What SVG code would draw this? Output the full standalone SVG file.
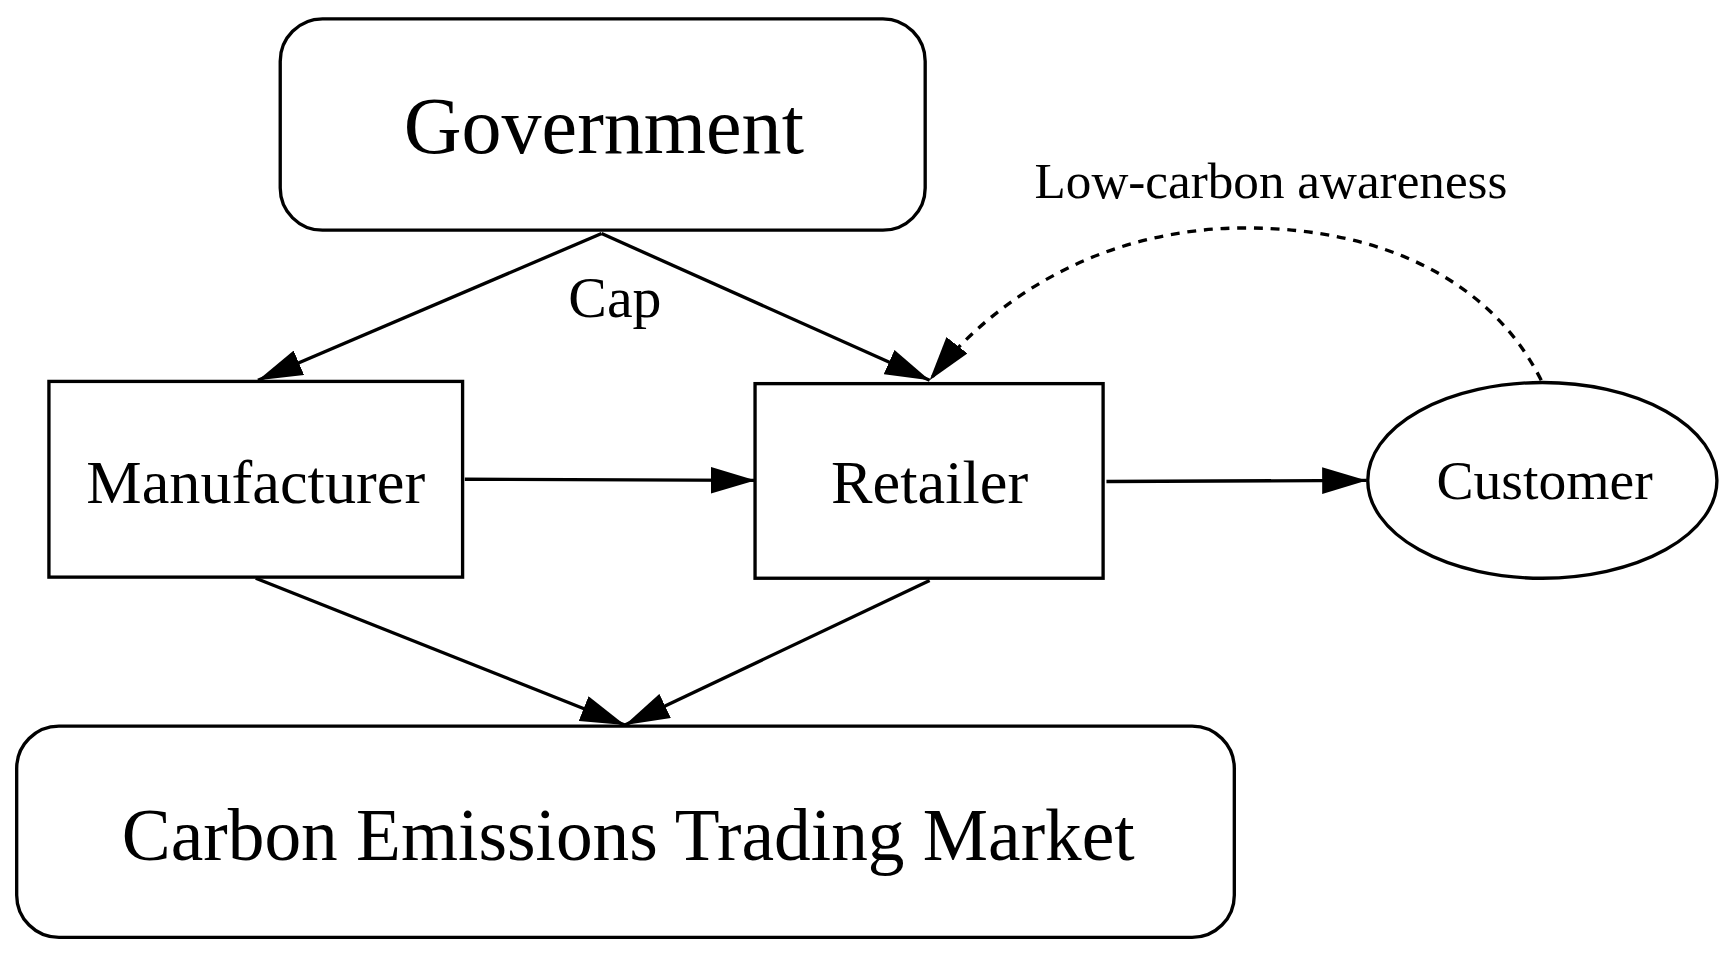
<svg xmlns="http://www.w3.org/2000/svg" width="1735" height="968" viewBox="0 0 1735 968">
<style>
.n{fill:#fff;stroke:#000;stroke-width:3}
.t{font-family:"Liberation Serif",serif;text-anchor:middle;fill:#000}
.e{fill:none;stroke:#000;stroke-width:3}
</style>
<defs><marker id="a" viewBox="0 0 14 10" refX="13" refY="5" markerWidth="14" markerHeight="10" markerUnits="userSpaceOnUse" orient="auto"><path d="M0,0L14,5L0,10z" fill="#000"/></marker>
<marker id="b" viewBox="0 0 40 24" refX="40" refY="12" markerWidth="40" markerHeight="24" markerUnits="userSpaceOnUse" orient="auto"><path d="M0,0L40,12L0,24z" fill="#000"/></marker></defs>
<rect width="1735" height="968" fill="#fff"/>
<g transform="scale(1.112)">
<g id="connectors">
<path class="e" d="M541,210L232,342" marker-end="url(#b)"/>
<path class="e" d="M541,210L836,342" marker-end="url(#b)"/>
<path class="e" d="M418,431L679,432" marker-end="url(#b)"/>
<path class="e" d="M995,433L1229,432" marker-end="url(#b)"/>
<path class="e" d="M230,520L562,652" marker-end="url(#b)"/>
<path class="e" d="M836,522L562,652" marker-end="url(#b)"/>
<path class="e" stroke-dasharray="8,7" d="M1386,342C1340,250 1240,205 1120,205C1000,205 900,260 836,342" marker-end="url(#b)"/>
<text class="t" x="553" y="285" font-size="52">Cap</text>
<text class="t" x="1143" y="178" font-size="46">Low-carbon awareness</text>
</g>
<g id="government"><rect class="n" x="252" y="17" width="580" height="190" rx="38"/><text class="t" x="543" y="138" font-size="72">Government</text></g>
<g id="manufacturer"><rect class="n" x="44" y="343" width="372" height="176"/><text class="t" x="230" y="452" font-size="56">Manufacturer</text></g>
<g id="retailer"><rect class="n" x="679" y="345" width="313" height="175"/><text class="t" x="836" y="452" font-size="56">Retailer</text></g>
<g id="customer"><ellipse class="n" cx="1387" cy="432" rx="157" ry="88"/><text class="t" x="1389" y="449" font-size="50">Customer</text></g>
<g id="market"><rect class="n" x="15" y="653" width="1095" height="190" rx="38"/><text class="t" x="565" y="773" font-size="66">Carbon Emissions Trading Market</text></g>
</g>
</svg>
